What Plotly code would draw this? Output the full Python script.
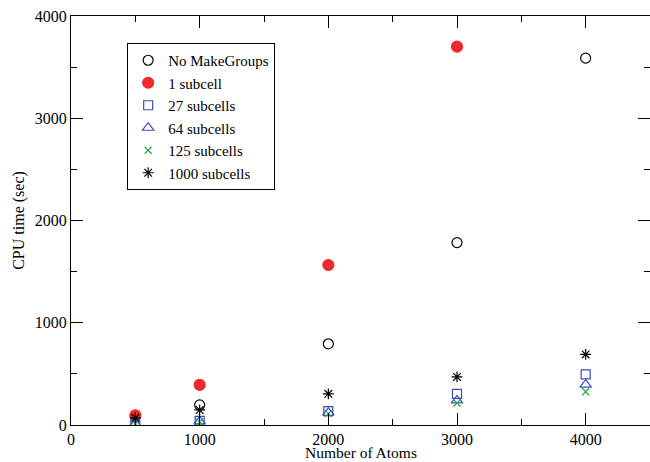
import plotly.graph_objects as go

atoms = [500, 1000, 2000, 3000, 4000]
no_makegroups = [85, 196, 794, 1784, 3588]
one_subcell = [95, 392, 1565, 3700]
atoms_one = [500, 1000, 2000, 3000]
sub27 = [15, 40, 135, 305, 495]
sub64 = [12, 35, 120, 240, 395]
sub125 = [10, 30, 112, 215, 325]
sub1000 = [70, 147, 305, 470, 690]

series = [
    ("No MakeGroups", atoms, no_makegroups, "circle-open", "black", 10),
    ("1 subcell", atoms_one, one_subcell, "circle", "#ee2a2a", 11),
    ("27 subcells", atoms, sub27, "square-open", "#3a4cc0", 9),
    ("64 subcells", atoms, sub64, "triangle-up-open", "#3a4cc0", 10),
    ("125 subcells", atoms, sub125, "x-thin-open", "#22aa44", 7),
    ("1000 subcells", atoms, sub1000, "asterisk-open", "black", 9),
]

fig = go.Figure()
for name, xs, ys, sym, col, sz in series:
    fig.add_trace(go.Scatter(
        x=xs, y=ys, mode="markers", name=name,
        marker=dict(symbol=sym, color=col, size=sz,
                    line=dict(color=col, width=1.2)),
    ))

fam = "Liberation Serif, Times New Roman, serif"
font = dict(family=fam, size=16, color="black")
axis_common = dict(
    showgrid=False, zeroline=False, showline=True, linecolor="black", linewidth=1,
    mirror="allticks", ticks="inside", ticklen=12, tickwidth=1, tickcolor="black",
    tickfont=font,
    minor=dict(ticks="inside", ticklen=6, tickwidth=1, tickcolor="black"),
)
fig.update_xaxes(range=[0, 4500], tickvals=[0, 1000, 2000, 3000, 4000],
                 minor_dtick=500, **axis_common)
fig.update_yaxes(range=[0, 4000], tickvals=[0, 1000, 2000, 3000, 4000],
                 minor_dtick=500, title=dict(text="CPU time (sec)", font=font, standoff=6),
                 **axis_common)

fig.add_annotation(text="Number of Atoms", xref="paper", yref="paper",
                   x=0.5, y=-0.0895, xanchor="center", yanchor="bottom",
                   showarrow=False, borderpad=0,
                   font=dict(family=fam, size=15.5, color="black"))

fig.update_layout(
    width=650, height=462,
    margin=dict(l=71, r=0, t=16, b=37),
    paper_bgcolor="white", plot_bgcolor="white",
    font=font,
    legend=dict(x=0.097, y=0.934, xanchor="left", yanchor="top",
                bordercolor="black", borderwidth=1, bgcolor="white",
                font=dict(family=fam, size=15, color="black"),
                itemwidth=30, tracegroupgap=0),
)
fig.write_html("out.html")
